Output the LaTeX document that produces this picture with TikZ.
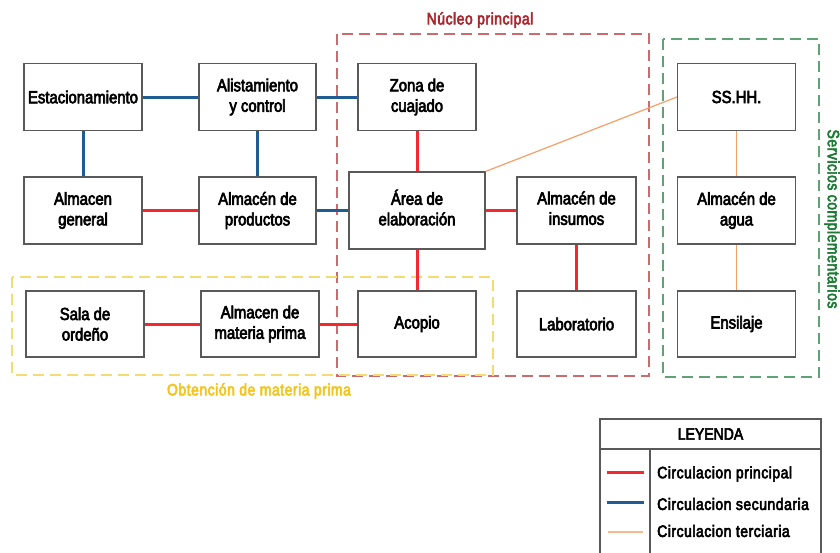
\documentclass[tikz,border=0pt]{standalone}
\usepackage{fontspec}
\setmainfont[FakeStretch=0.85,FakeBold=3.5]{Liberation Sans}
\newfontfamily\spacedfont[FakeStretch=0.85,LetterSpace=3,FakeBold=3.5]{Liberation Sans}
\usetikzlibrary{positioning}

\definecolor{boxline}{HTML}{595959}
\definecolor{redline}{HTML}{F22A30}
\definecolor{blueline}{HTML}{1F5C93}
\definecolor{orangeline}{HTML}{F5A068}
\definecolor{peachline}{HTML}{FAB88F}
\definecolor{coreframe}{HTML}{C86C70}
\definecolor{coretext}{HTML}{A8282E}
\definecolor{serviceframe}{HTML}{5FA273}
\definecolor{servicetext}{HTML}{1F7A36}
\definecolor{rawframe}{HTML}{F3DC72}
\definecolor{rawtext}{HTML}{F2C51C}

% two-line label raised a little inside its box
\newcommand{\raisedlines}[3]{\raisebox{#1}{\begin{tabular}{@{}c@{}}#2\\#3\end{tabular}}}

\tikzset{
  room/.style={draw=boxline, line width=1.1pt, fill=white, align=center,
    minimum width=118pt, minimum height=67pt, inner sep=2pt,
    font=\fontsize{17.5}{20.5}\selectfont},
  primary/.style={draw=redline, line width=3pt},
  secondary/.style={draw=blueline, line width=3pt},
  tertiary/.style={draw=orangeline, line width=1.2pt},
  zoneframe/.style={line width=1.2pt, dash pattern=on 11pt off 6pt},
  zonelabel/.style={font=\fontsize{16.5}{18}\selectfont\spacedfont},
  legendtext/.style={anchor=west, font=\fontsize{16.5}{18}\selectfont\spacedfont, inner sep=0pt},
}

\begin{document}
\begin{tikzpicture}[x=1pt, y=-1pt]
  \useasboundingbox (0,0) rectangle (840,552);
  \fill[white] (0,0) rectangle (840,552);

  % zone frames
  \draw[zoneframe, draw=coreframe] (337,34) rectangle (649,376);
  \draw[zoneframe, draw=serviceframe] (663,39) rectangle (819,377);
  \draw[zoneframe, draw=rawframe] (12,277) rectangle (493,375);

  \node[coretext, zonelabel] (corelabel) at (480,20) {Núcleo principal};
  \node[servicetext, rotate=-90, zonelabel] (servicelabel) at (832,219) {Servicios complementarios};
  \node[rawtext, zonelabel] (rawlabel) at (259,391) {Obtención de materia prima};

  % rooms
  \node[room] (est)   at (83,97)    {Estacionamiento};
  \node[room, minimum width=117pt] (ali) at (257.5,97) {Alistamiento\\y control};
  \node[room] (zona)  at (417,97)   {Zona de\\cuajado};
  \node[room] (ss)    at (736.5,97) {SS.HH.};

  \node[room] (gen)   at (83,210.5)    {Almacen\\general};
  \node[room, minimum width=117pt] (prod) at (257.5,210.5) {Almacén de\\productos};
  \node[room, minimum width=136pt, minimum height=77pt] (area) at (417,210.5) {\raisedlines{4pt}{Área de}{elaboración}};
  \node[room, minimum width=119pt] (ins) at (576.5,210.5) {\raisedlines{5pt}{Almacén de}{insumos}};
  \node[room] (agua)  at (736.5,210.5) {Almacén de\\agua};

  \node[room, minimum height=66pt] (sala)   at (85,324)    {Sala de\\ordeño};
  \node[room, minimum height=66pt] (mp)     at (260,324)   {Almacen de\\materia prima};
  \node[room, minimum height=66pt] (acopio) at (417,324)   {Acopio};
  \node[room, minimum height=66pt, minimum width=119pt] (lab) at (576.5,324) {Laboratorio};
  \node[room, minimum height=66pt] (ens)    at (736.5,324) {Ensilaje};

  % secondary circulation
  \draw[secondary] (est) -- (ali);
  \draw[secondary] (ali) -- (zona);
  \draw[secondary] (est) -- (gen);
  \draw[secondary] (ali) -- (prod);
  \draw[secondary] (prod) -- (area);

  % primary circulation
  \draw[primary] (gen) -- (prod);
  \draw[primary] (zona) -- (area);
  \draw[primary] (area) -- (ins);
  \draw[primary] (area) -- (acopio);
  \draw[primary] (ins) -- (lab);
  \draw[primary] (sala) -- (mp);
  \draw[primary] (mp) -- (acopio);

  % tertiary circulation
  \draw[tertiary] (ss.west) -- (area.north east);
  \draw[tertiary] (ss) -- (agua);
  \draw[tertiary] (agua) -- (ens);

  % legend
  \draw[draw=boxline, line width=1.1pt] (600,419) rectangle (821,562);
  \draw[draw=boxline, line width=1.1pt] (600,449) -- (821,449);
  \draw[draw=boxline, line width=1.1pt] (650,449) -- (650,562);
  \node[font=\fontsize{16.5}{18}\selectfont] (legendtitle) at (710.5,434) {LEYENDA};

  \coordinate (k1a) at (607,472); \coordinate (k1b) at (644,472);
  \coordinate (k2a) at (607,502); \coordinate (k2b) at (644,502);
  \coordinate (k3a) at (608,532); \coordinate (k3b) at (643,532);
  \draw[draw=redline, line width=3pt] (k1a) -- (k1b);
  \draw[draw=blueline, line width=3pt] (k2a) -- (k2b);
  \draw[draw=peachline, line width=2.5pt] (k3a) -- (k3b);
  \node[legendtext] (l1) at (657,474) {Circulacion principal};
  \node[legendtext] (l2) at (657,504) {Circulacion secundaria};
  \node[legendtext] (l3) at (657,531) {Circulacion terciaria};
\end{tikzpicture}
\end{document}
